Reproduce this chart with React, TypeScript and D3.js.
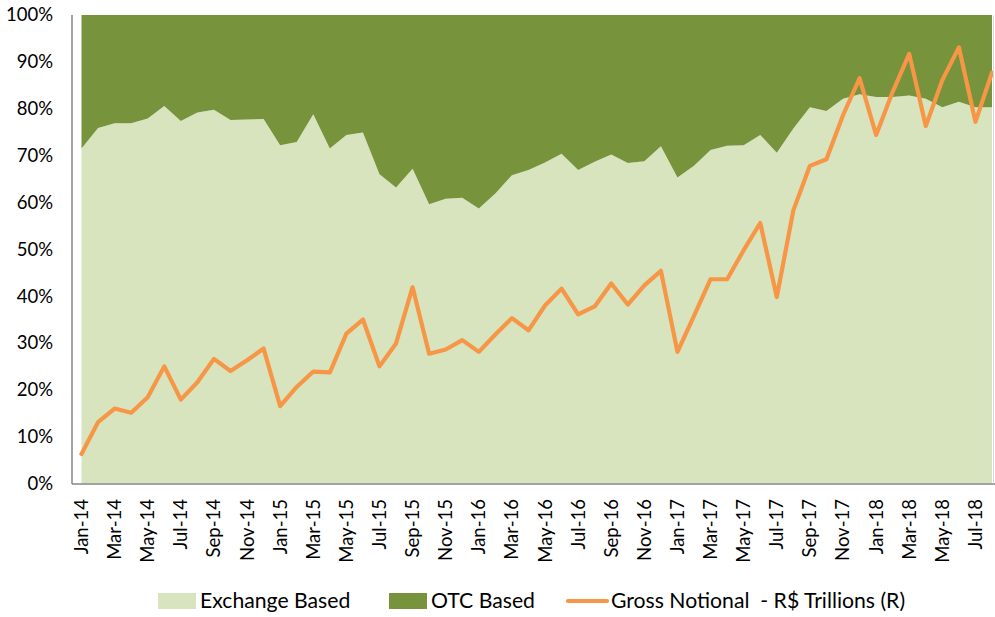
import React from "react";
import * as d3 from "d3";

const months = [
  "Jan-14","Feb-14","Mar-14","Apr-14","May-14","Jun-14","Jul-14","Aug-14","Sep-14","Oct-14","Nov-14","Dec-14",
  "Jan-15","Feb-15","Mar-15","Apr-15","May-15","Jun-15","Jul-15","Aug-15","Sep-15","Oct-15","Nov-15","Dec-15",
  "Jan-16","Feb-16","Mar-16","Apr-16","May-16","Jun-16","Jul-16","Aug-16","Sep-16","Oct-16","Nov-16","Dec-16",
  "Jan-17","Feb-17","Mar-17","Apr-17","May-17","Jun-17","Jul-17","Aug-17","Sep-17","Oct-17","Nov-17","Dec-17",
  "Jan-18","Feb-18","Mar-18","Apr-18","May-18","Jun-18","Jul-18","Aug-18",
];

const exchangeBased = [
  71.5, 75.9, 76.9, 76.9, 77.9, 80.6, 77.4, 79.2, 79.8, 77.6, 77.7, 77.8,
  72.2, 72.9, 78.8, 71.5, 74.4, 74.9, 66.0, 63.2, 67.2, 59.6, 60.8, 61.0,
  58.7, 61.9, 65.8, 66.9, 68.5, 70.4, 66.9, 68.7, 70.2, 68.4, 68.8, 72.0,
  65.3, 67.8, 71.2, 72.1, 72.2, 74.4, 70.6, 75.8, 80.3, 79.5, 82.1, 83.1,
  82.5, 82.5, 82.8, 82.1, 80.3, 81.5, 80.3, 80.3,
];

const otcBased = [
  28.5, 24.1, 23.1, 23.1, 22.1, 19.4, 22.6, 20.8, 20.2, 22.4, 22.3, 22.2,
  27.8, 27.1, 21.2, 28.5, 25.6, 25.1, 34.0, 36.8, 32.8, 40.4, 39.2, 39.0,
  41.3, 38.1, 34.2, 33.1, 31.5, 29.6, 33.1, 31.3, 29.8, 31.6, 31.2, 28.0,
  34.7, 32.2, 28.8, 27.9, 27.8, 25.6, 29.4, 24.2, 19.7, 20.5, 17.9, 16.9,
  17.5, 17.5, 17.2, 17.9, 19.7, 18.5, 19.7, 19.7,
];

const grossNotional = [
  6.3, 13.1, 16.0, 15.1, 18.4, 25.0, 17.9, 21.6, 26.6, 24.0, 26.3, 28.8,
  16.5, 20.6, 23.9, 23.7, 32.0, 35.0, 25.0, 29.9, 41.9, 27.7, 28.6, 30.6,
  28.1, 31.8, 35.3, 32.7, 38.0, 41.6, 36.1, 37.8, 42.7, 38.2, 42.3, 45.4,
  28.1, 35.8, 43.6, 43.6, 49.8, 55.6, 39.8, 58.3, 67.8, 69.2, 78.6, 86.5,
  74.4, 83.6, 91.7, 76.3, 86.1, 93.1, 77.2, 87.7,
];

const yTicks = [0, 10, 20, 30, 40, 50, 60, 70, 80, 90, 100];

const seriesNames = ["Exchange Based", "OTC Based", "Gross Notional  - R$ Trillions (R)"];

const COLORS = { exchange: "#D7E4BD", otc: "#77933C", line: "#F79646", axis: "#868686" };
const FONT = "Lato, 'Open Sans', sans-serif";

export default function App() {
  const W = 995, H = 617;
  const left = 81.5, right = 992, top = 15, bottom = 483.5;

  const x = d3.scalePoint<string>().domain(months).range([left, right]);
  const y = d3.scaleLinear().domain([0, 100]).range([bottom, top]);

  const table = months.map((m, i) => ({ month: m, exchange: exchangeBased[i], otc: otcBased[i] }));
  const stacked = d3.stack<any>().keys(["exchange", "otc"]).offset(d3.stackOffsetExpand)(table);

  const area = d3
    .area<any>()
    .x((d) => x(d.data.month) as number)
    .y0((d) => y(d[0] * 100))
    .y1((d) => y(d[1] * 100));

  const line = d3
    .line<number>()
    .x((_, i) => x(months[i]) as number)
    .y((d) => y(d));

  const fills = [COLORS.exchange, COLORS.otc];

  return (
    <svg width={W} height={H} style={{ position: "absolute", left: 0, top: 0, background: "#fff" }} fontFamily={FONT}>
      {stacked.map((s, k) => (
        <path key={k} d={area(s) || ""} fill={fills[k]} />
      ))}
      <path d={line(grossNotional) || ""} fill="none" stroke={COLORS.line} strokeWidth={4.2} strokeLinejoin="round" strokeLinecap="round" />

      {/* axes */}
      <line x1={72} x2={72} y1={top} y2={bottom + 0.5} stroke={COLORS.axis} strokeWidth={1.5} />
      <line x1={72} x2={995} y1={bottom + 0.5} y2={bottom + 0.5} stroke={COLORS.axis} strokeWidth={1.5} />
      <line x1={993.5} x2={993.5} y1={top} y2={bottom} stroke="#d9d9d9" strokeWidth={1} />

      {yTicks.map((t) => (
        <text key={t} x={53} y={y(t)} dy="0.35em" textAnchor="end" fontSize={18.5} fill="#000">
          {t + "%"}
        </text>
      ))}

      {months.map((m, i) =>
        i % 2 === 0 ? (
          <text
            key={m}
            transform={`translate(${x(m)},${499}) rotate(-90)`}
            textAnchor="end"
            dy="0.35em"
            fontSize={18.5}
            fill="#000"
          >
            {m}
          </text>
        ) : null
      )}

      {/* legend */}
      <rect x={158} y={593} width={38} height={16} fill={COLORS.exchange} />
      <text x={200} y={601} dy="0.35em" fontSize={21.2} fill="#000">{seriesNames[0]}</text>
      <rect x={389} y={593} width={38} height={16} fill={COLORS.otc} />
      <text x={431} y={601} dy="0.35em" fontSize={21.2} fill="#000">{seriesNames[1]}</text>
      <line x1={568} x2={607} y1={601} y2={601} stroke={COLORS.line} strokeWidth={4.2} strokeLinecap="round" />
      <text x={611} y={601} dy="0.35em" fontSize={21.2} fill="#000" style={{ whiteSpace: "pre" }}>{seriesNames[2]}</text>
    </svg>
  );
}
